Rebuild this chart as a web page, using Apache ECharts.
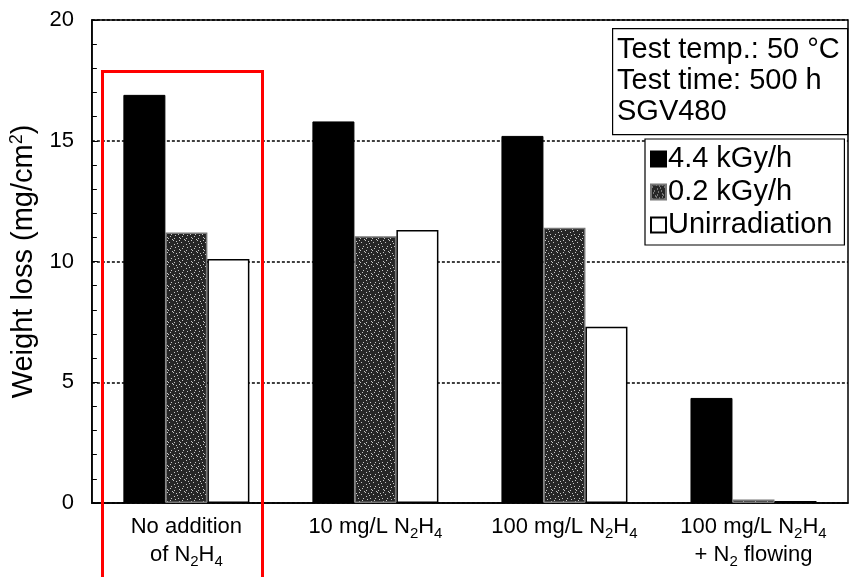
<!DOCTYPE html>
<html>
<head>
<meta charset="utf-8">
<script src="https://cdn.jsdelivr.net/npm/echarts@6/dist/echarts.min.js"></script>
<style>html,body{margin:0;padding:0;background:#fff}#c{width:854px;height:577px}</style>
</head>
<body>
<div id="c"></div>
<script>
// ---- data ----
var categories = ['No addition\nof N{sub|2}H{sub|4}', '10 mg/L N{sub|2}H{sub|4}', '100 mg/L N{sub|2}H{sub|4}', '100 mg/L N{sub|2}H{sub|4}\n+ N{sub|2} flowing'];
var seriesNames = ['4.4 kGy/h', '0.2 kGy/h', 'Unirradiation'];
var dose44 = [16.9, 15.8, 15.2, 4.35];
var dose02 = [11.2, 11.05, 11.4, 0.15];
var unirradiated = [10.1, 11.3, 7.3, 0.08];
var yTicks = [0, 5, 10, 15, 20];
var noteLines = ['Test temp.: 50 \u00B0C', 'Test time: 500 h', 'SGV480'];

// stipple pattern for the 0.2 kGy/h bars (deterministic)
function makePattern() {
  var c = document.createElement('canvas');
  c.width = 12; c.height = 12;
  var ctx = c.getContext('2d');
  ctx.fillStyle = '#262626';
  ctx.fillRect(0, 0, 12, 12);
  ctx.fillStyle = '#c8c8c8';
  var pts = [[1,2],[5,0],[9,3],[3,6],[7,7],[11,9],[0,10],[4,11],[8,1],[10,6],[2,8],[6,4],[6,10],[11,0]];
  pts.forEach(function (p) { ctx.fillRect(p[0], p[1], 1, 1); });
  return c;
}
var pattern = makePattern();

var font = '"Liberation Sans", Arial, sans-serif';

var chart = echarts.init(document.getElementById('c'), null, {renderer: 'canvas'});
var option = {
  animation: false,
  backgroundColor: '#fff',
  grid: {left: 89, right: 6, top: 20, bottom: 74, show: true, borderColor: '#000', borderWidth: 1.5},
  legend: {
    orient: 'vertical',
    left: 645, top: 139,
    padding: [5, 12, 5, 5],
    borderColor: '#000', borderWidth: 1.2,
    backgroundColor: '#fff',
    itemWidth: 15, itemHeight: 15, itemGap: 3,
    icon: 'rect',
    textStyle: {fontFamily: font, fontSize: 29, lineHeight: 30, color: '#000', padding: [0, 0, 0, -3]},
    data: seriesNames
  },
  xAxis: {
    type: 'category',
    data: categories,
    axisLine: {lineStyle: {color: '#000', width: 1.5}},
    axisTick: {show: false},
    axisLabel: {
      interval: 0,
      margin: 10,
      fontFamily: font, fontSize: 22, color: '#000', lineHeight: 28,
      rich: {sub: {fontFamily: font, fontSize: 15, color: '#000', verticalAlign: 'bottom', padding: [10, 0, 0, 0]}}
    }
  },
  yAxis: {
    type: 'value',
    min: 0, max: 20, interval: 5,
    name: 'Weight loss (mg/cm{sup|2})',
    nameLocation: 'middle',
    nameGap: 47,
    nameTextStyle: {fontFamily: font, fontSize: 29, color: '#000',
      rich: {sup: {fontFamily: font, fontSize: 18, color: '#000', verticalAlign: 'top', padding: [0, 0, 14, 0]}}},
    axisLine: {show: true, lineStyle: {color: '#000', width: 1.5}},
    axisTick: {show: true, inside: true, length: 6, lineStyle: {color: '#000'}},
    minorTick: {show: true, splitNumber: 5, length: 5, lineStyle: {color: '#000'}},
    axisLabel: {fontFamily: font, fontSize: 22, color: '#000', margin: 18,
      formatter: function (v) { return yTicks.indexOf(v) >= 0 ? String(v) : ''; }},
    splitLine: {show: true, lineStyle: {color: '#000', type: [3, 2], width: 1.5}}
  },
  series: [
    {name: seriesNames[0], type: 'bar', data: dose44, barWidth: 42, barGap: '0%',
     itemStyle: {color: '#000', borderColor: '#000', borderWidth: 1}},
    {name: seriesNames[1], type: 'bar', data: dose02, barWidth: 42, barGap: '0%',
     itemStyle: {color: {image: pattern, repeat: 'repeat'}, borderColor: '#777', borderWidth: 1.5}},
    {name: seriesNames[2], type: 'bar', data: unirradiated, barWidth: 42, barGap: '0%',
     itemStyle: {color: '#fff', borderColor: '#000', borderWidth: 1.5}}
  ],
  graphic: [
    {type: 'rect', left: 612, top: 28, z: 100,
     shape: {width: 235, height: 106},
     style: {fill: '#fff', stroke: '#000', lineWidth: 1.2}},
    {type: 'text', left: 617, top: 34, z: 101,
     style: {text: noteLines.join('\n'), fontFamily: font, fontSize: 29, lineHeight: 31, fill: '#000'}},
    {type: 'rect', left: 100, top: 69, z: 102,
     shape: {width: 160, height: 520},
     style: {fill: 'none', stroke: '#ff0000', lineWidth: 3}}
  ]
};
chart.setOption(option);
</script>
</body>
</html>
